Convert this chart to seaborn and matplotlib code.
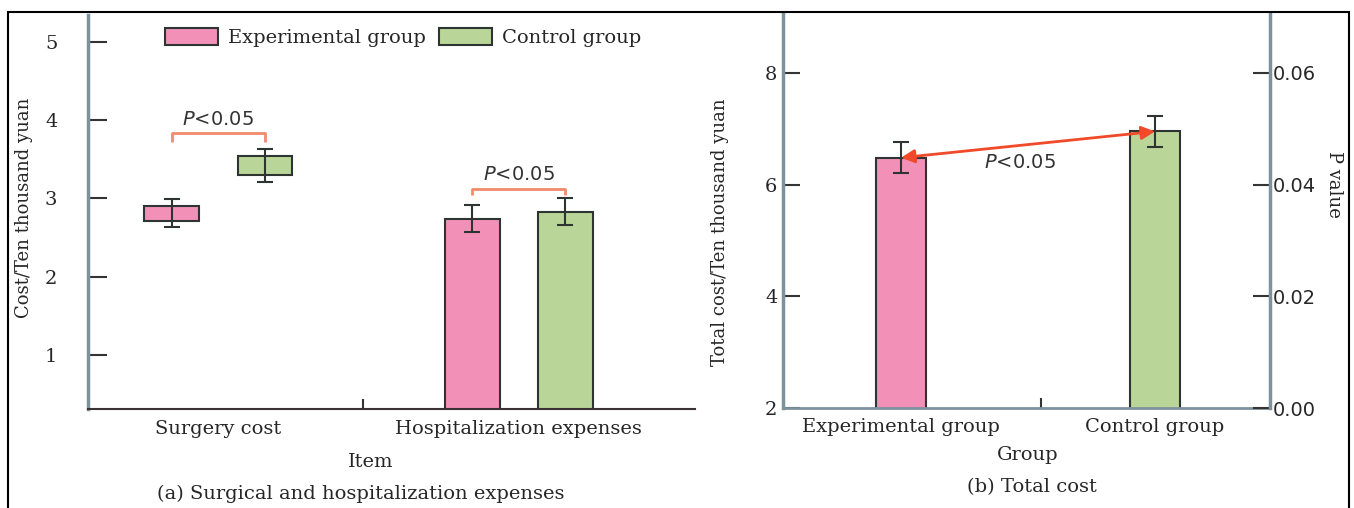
import pandas as pd
import matplotlib
matplotlib.use("Agg")
import matplotlib.pyplot as plt
from matplotlib.patches import Rectangle
from matplotlib.ticker import FixedLocator
import seaborn as sns

# (a) surgical and hospitalization expenses
items = ["Surgery cost", "Hospitalization expenses"]
groups = ["Experimental group", "Control group"]
surgery_box_low = [2.71, 3.30]
surgery_box_high = [2.90, 3.54]
surgery_mean = [2.81, 3.42]
surgery_err = [0.18, 0.21]
hosp_mean = [2.74, 2.83]
hosp_err = [0.17, 0.17]

# (b) total cost
total_mean = [6.48, 6.95]
total_err = [0.28, 0.28]
p_ticks = [0.00, 0.02, 0.04, 0.06]

pink = "#f290b8"
green = "#bad598"
edge = "#2e3431"
spine_col = "#7d929d"
bracket_col = "#f28a6c"
arrow_col = "#f04a2a"
fs = 14      # horizontal text
fs_v = 13    # rotated axis labels

sns.set_style("ticks")
plt.rcParams['font.family'] = ['DejaVu Serif', 'Liberation Serif']
plt.rcParams['mathtext.fontset'] = 'dejavusans'

W, H = 1354, 508
fig = plt.figure(figsize=(W / 100, H / 100), dpi=100)
ax_a = fig.add_axes([88 / W, (H - 409) / H, 607 / W, 394 / H])
ax_b = fig.add_axes([783 / W, (H - 408) / H, 487 / W, 395 / H])

# ---- panel a
df_a = pd.DataFrame({
    "item": [items[0]] * 2 + [items[1]] * 2,
    "group": groups * 2,
    "value": surgery_box_high + hosp_mean,
})
sns.barplot(data=df_a, x="item", y="value", hue="group", order=items,
            hue_order=groups, palette=[pink, green], saturation=1,
            width=0.62, gap=0.41, errorbar=None, edgecolor=edge,
            linewidth=1.5, ax=ax_a)

centers = []
bar_conts = list(ax_a.containers)
for i, cont in enumerate(bar_conts):
    bars = list(cont.patches)
    # surgery cost is drawn as a floating box
    bars[0].set_y(surgery_box_low[i])
    bars[0].set_height(surgery_box_high[i] - surgery_box_low[i])
    xc = [b.get_x() + b.get_width() / 2 for b in bars]
    centers.append(xc)
    ax_a.errorbar(xc, [surgery_mean[i], hosp_mean[i]],
                  yerr=[surgery_err[i], hosp_err[i]], fmt="none",
                  ecolor=edge, elinewidth=1.5, capsize=6, capthick=1.5, zorder=5)


def bracket(ax, x0, x1, y_top, y_leg, y_txt):
    ax.plot([x0, x0, x1, x1], [y_leg, y_top, y_top, y_leg],
            color=bracket_col, lw=2, solid_capstyle="butt")
    ax.text((x0 + x1) / 2, y_txt, r"$P$<0.05", ha="center", va="center",
            fontsize=fs, color="#333333", family="DejaVu Sans")


bracket(ax_a, centers[0][0], centers[1][0], 3.83, 3.72, 4.0)
bracket(ax_a, centers[0][1], centers[1][1], 3.12, 3.04, 3.31)

ax_a.set_xlim(-0.434, 1.586)
ax_a.set_ylim(0.31, 5.34)
ax_a.set_yticks([1, 2, 3, 4, 5])
ax_a.tick_params(axis="y", direction="in", length=14, width=1.5, pad=22,
                 labelsize=fs, color="#333333")
ax_a.tick_params(axis="x", which="major", length=0, pad=8, labelsize=fs)
ax_a.xaxis.set_minor_locator(FixedLocator([0.48]))
ax_a.tick_params(axis="x", which="minor", direction="in", length=7, width=1.5,
                 color="#333333")
ax_a.spines[["top", "right"]].set_visible(False)
ax_a.spines["left"].set_color(spine_col)
ax_a.spines["left"].set_linewidth(2.5)
ax_a.spines["bottom"].set_color("#3a3232")
ax_a.spines["bottom"].set_linewidth(1.5)

ax_a.set_ylabel("Cost/Ten thousand yuan", fontsize=fs_v)
ax_a.yaxis.label.set_va("center")
ax_a.yaxis.set_label_coords(-0.105, 0.51)
ax_a.set_xlabel("Item", fontsize=fs)
ax_a.xaxis.label.set_va("center")
ax_a.xaxis.set_label_coords(0.465, -0.135)
ax_a.text(0.45, -0.216, "(a) Surgical and hospitalization expenses",
          transform=ax_a.transAxes, ha="center", va="center", fontsize=fs)

sns.move_legend(ax_a, "upper left", bbox_to_anchor=(77 / 607, 381 / 394),
                ncol=2, frameon=False, title=None, fontsize=fs,
                handlelength=2.73, handleheight=0.98, handletextpad=0.52,
                columnspacing=0.67, borderaxespad=0, borderpad=0)

# ---- panel b
df_b = pd.DataFrame({"group": groups, "value": total_mean})
sns.barplot(data=df_b, x="group", y="value", hue="group", order=groups,
            hue_order=groups, palette=[pink, green], saturation=1, width=0.2,
            errorbar=None, edgecolor=edge, linewidth=1.5, legend=False, ax=ax_b)

bx = []
for cont in list(ax_b.containers):
    for b in cont.patches:
        if b.get_height() > 0:
            bx.append(b.get_x() + b.get_width() / 2)
bx = sorted(bx)
ax_b.errorbar(bx, total_mean, yerr=total_err, fmt="none", ecolor=edge,
              elinewidth=1.5, capsize=6, capthick=1.5, zorder=5)
ax_b.annotate("", xy=(bx[0], total_mean[0]), xytext=(bx[1], total_mean[1]),
              arrowprops=dict(arrowstyle="<|-|>", color=arrow_col, lw=2,
                              mutation_scale=20, shrinkA=0, shrinkB=0),
              zorder=6)
ax_b.text(0.47, 6.40, r"$P$<0.05", ha="center", va="center", fontsize=fs,
          color="#333333", family="DejaVu Sans")

ax_b.set_xlim(-0.4646, 1.4528)
ax_b.set_ylim(2, 9.07)
ax_b.set_yticks([2, 4, 6, 8])
ax_b.tick_params(axis="y", direction="in", length=12, width=1.5, pad=4,
                 labelsize=fs, color="#333333")
ax_b.tick_params(axis="x", which="major", length=0, pad=7, labelsize=fs)
ax_b.xaxis.set_minor_locator(FixedLocator([0.55]))
ax_b.tick_params(axis="x", which="minor", direction="in", length=7, width=1.5,
                 color="#333333")
ax_b.spines[["top", "right"]].set_visible(False)
ax_b.spines["left"].set_color(spine_col)
ax_b.spines["left"].set_linewidth(2.5)
ax_b.spines["bottom"].set_color(spine_col)
ax_b.spines["bottom"].set_linewidth(2)

ax_b.set_ylabel("Total cost/Ten thousand yuan", fontsize=fs_v)
ax_b.yaxis.label.set_va("center")
ax_b.yaxis.set_label_coords(-0.129, 0.445)
ax_b.set_xlabel("Group", fontsize=fs)
ax_b.xaxis.label.set_va("center")
ax_b.xaxis.set_label_coords(0.503, -0.119)
ax_b.text(0.511, -0.2, "(b) Total cost", transform=ax_b.transAxes,
          ha="center", va="center", fontsize=fs)

ax_p = ax_b.twinx()
ax_p.set_ylim(0, 0.0707)
ax_p.set_yticks(p_ticks)
ax_p.set_yticklabels([f"{v:.2f}" for v in p_ticks], family="DejaVu Sans")
ax_p.tick_params(axis="y", direction="in", length=12, width=1.5, pad=2,
                 labelsize=fs, color="#333333")
ax_p.spines[["top", "left", "bottom"]].set_visible(False)
ax_p.spines["right"].set_color(spine_col)
ax_p.spines["right"].set_linewidth(2.5)
ax_p.set_ylabel("P value", rotation=270, fontsize=fs_v)
ax_p.yaxis.label.set_va("center")
ax_p.yaxis.set_label_coords(1.131, 0.565)

# outer frame
fig.add_artist(Rectangle((8 / W, -0.02), (1349 - 8) / W, (H - 12) / H + 0.02,
                         transform=fig.transFigure, fill=False,
                         edgecolor="black", lw=1.5))

fig.savefig("out.png", dpi=100)
